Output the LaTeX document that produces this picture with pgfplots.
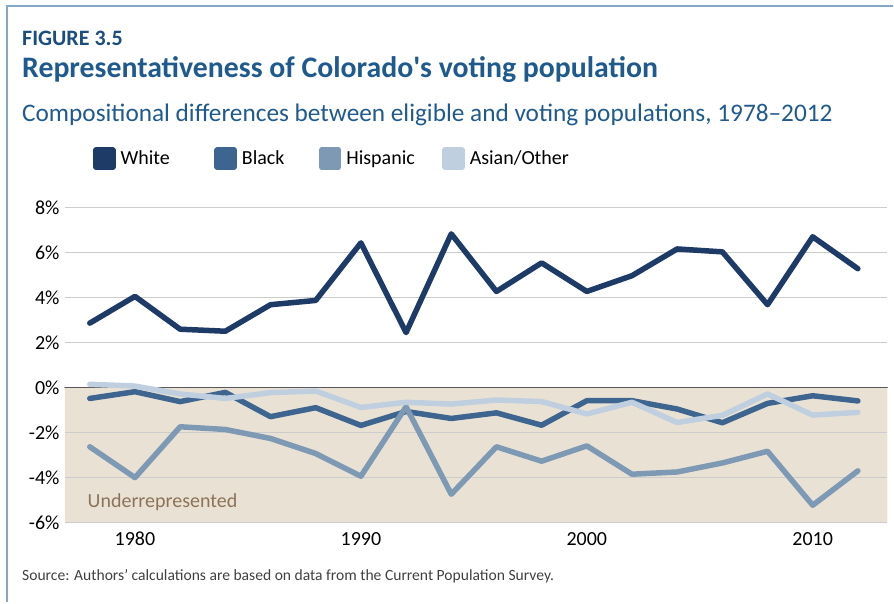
\documentclass[border=0pt]{standalone}
\usepackage{pgfplots}
\pgfplotsset{compat=1.18}
\usepackage{fontspec}
\setmainfont{Carlito}
\definecolor{cWhite}{HTML}{1E3A66}
\definecolor{cBlack}{HTML}{3D6590}
\definecolor{cHisp}{HTML}{7E99B4}
\definecolor{cAsian}{HTML}{C0CFDF}
\definecolor{beige}{HTML}{E9E2D4}
\definecolor{titleblue}{HTML}{1F5A8E}
\definecolor{figblue}{HTML}{1B4E7E}
\definecolor{framec}{HTML}{86A6C6}
\definecolor{brownt}{HTML}{8C7358}
\pgfplotsset{layers/mylayers/.define layer set={axis background,axis grid,main,axis ticks,axis tick labels,axis lines,axis descriptions,axis foreground}{}}
\begin{document}
\begin{tikzpicture}
\path (0pt,0pt) rectangle (894pt,603pt);
\draw[framec, line width=1.5pt] (7pt,0pt) -- (7pt,597pt) -- (894pt,597pt);
\node[anchor=base west, inner sep=0, text=figblue, font=\fontsize{22}{25}\selectfont\bfseries] at (22pt,557pt) {FIGURE 3.5};
\node[anchor=base west, inner sep=0, text=titleblue, font=\fontsize{29.8}{34}\selectfont\bfseries] at (22pt,525pt) {Representativeness of Colorado\textquotesingle s voting population};
\node[anchor=base west, inner sep=0, text=titleblue, font=\fontsize{25.3}{29}\selectfont] at (22pt,481pt) {Compositional differences between eligible and voting populations, 1978--2012};
\node[anchor=base west, inner sep=0, text=black!75, font=\fontsize{15.6}{18}\selectfont] at (22pt,22pt) {Source: Authors' calculations are based on data from the Current Population Survey.};
\begin{axis}[
  at={(65pt,80pt)}, anchor=south west,
  scale only axis, width=823pt, height=315pt,
  xmin=1976.9, xmax=2013.3, ymin=-6, ymax=8,
  set layers=mylayers,
  axis line style={draw=none},
  ymajorgrids, grid style={black!20, line width=1pt},
  xtick={1980,1990,2000,2010}, xticklabels={1980,1990,2000,2010},
  ytick={-6,-4,-2,0,2,4,6,8},
  yticklabels={-6\%,-4\%,-2\%,0\%,2\%,4\%,6\%,8\%},
  tick label style={font=\fontsize{20}{22}\selectfont, text=black},
  major tick length=0pt,
  xticklabel style={yshift=-6pt},
  yticklabel style={xshift=-2pt},
  clip=false,
  legend style={at={(0.034,1.156)}, anchor=west, draw=none, fill=none, inner sep=0pt,
    legend columns=4, font=\fontsize{20}{22}\selectfont,
    /tikz/every odd column/.style={column sep=3pt}},
  legend image code/.code={\fill (0pt,-8.5pt) rectangle (17pt,8.5pt);},
  every axis plot/.append style={line width=5.5pt, line join=round, line cap=round},
]
\addplot[fill=beige, draw=none, forget plot, on layer=axis background] coordinates {(1976.9,0) (2013.3,0) (2013.3,-6) (1976.9,-6) (1976.9,0)};
\addplot[black!65, line width=1pt, forget plot] coordinates {(1976.9,0) (2013.3,0)};
\addplot[cWhite] coordinates {
(1978,2.87) (1980,4.06) (1982,2.60) (1984,2.51) (1986,3.69) (1988,3.88) (1990,6.44) (1992,2.45) (1994,6.84)
(1996,4.28) (1998,5.55) (2000,4.28) (2002,4.98) (2004,6.17) (2006,6.04) (2008,3.69) (2010,6.71) (2012,5.29)};
\addlegendentry{\makebox[92pt][l]{White}}
\addplot[cBlack] coordinates {
(1978,-0.48) (1980,-0.18) (1982,-0.62) (1984,-0.21) (1986,-1.29) (1988,-0.89) (1990,-1.68) (1992,-1.06) (1994,-1.37)
(1996,-1.12) (1998,-1.67) (2000,-0.58) (2002,-0.58) (2004,-0.95) (2006,-1.56) (2008,-0.70) (2010,-0.36) (2012,-0.59)};
\addlegendentry{\makebox[75pt][l]{Black}}
\addplot[cHisp] coordinates {
(1978,-2.63) (1980,-4.00) (1982,-1.74) (1984,-1.86) (1986,-2.26) (1988,-2.93) (1990,-3.94) (1992,-0.85) (1994,-4.74)
(1996,-2.63) (1998,-3.27) (2000,-2.59) (2002,-3.85) (2004,-3.75) (2006,-3.35) (2008,-2.83) (2010,-5.23) (2012,-3.70)};
\addlegendentry{\makebox[94pt][l]{Hispanic}}
\addplot[cAsian] coordinates {
(1978,0.15) (1980,0.07) (1982,-0.28) (1984,-0.48) (1986,-0.22) (1988,-0.15) (1990,-0.88) (1992,-0.65) (1994,-0.73)
(1996,-0.55) (1998,-0.62) (2000,-1.17) (2002,-0.65) (2004,-1.55) (2006,-1.23) (2008,-0.28) (2010,-1.22) (2012,-1.10)};
\addlegendentry{Asian/Other}
\node[anchor=base west, inner sep=0, text=brownt, font=\fontsize{20}{22}\selectfont] at (axis cs:1977.9,-5.33) {Underrepresented};
\end{axis}
\end{tikzpicture}
\end{document}
